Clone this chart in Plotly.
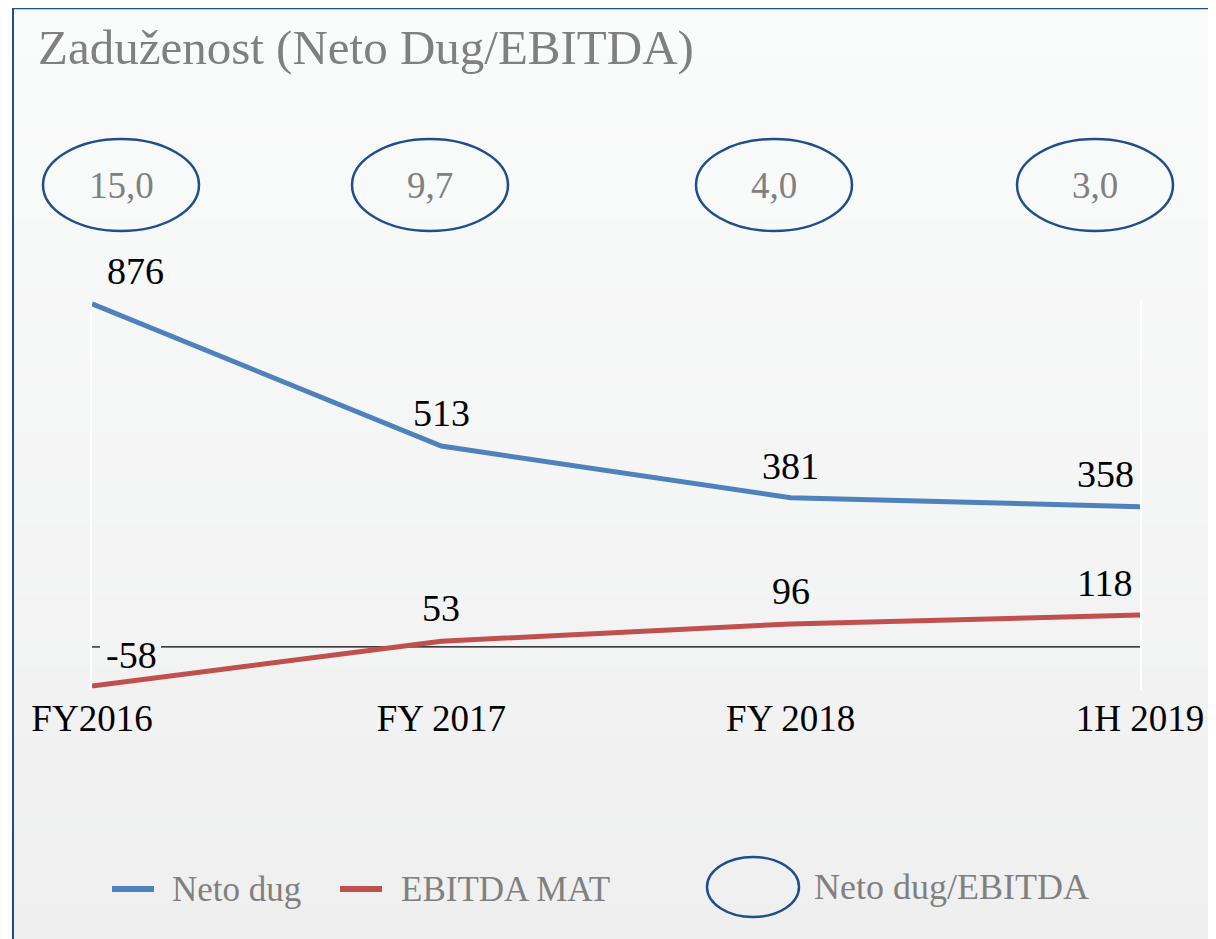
import plotly.graph_objects as go

# ---------------- data ----------------
categories = ["FY2016", "FY 2017", "FY 2018", "1H 2019"]
neto_dug = [876, 513, 381, 358]
ebitda_mat = [-58, 53, 96, 118]
ratio = [15.0, 9.7, 4.0, 3.0]
series_names = ["Neto dug", "EBITDA MAT"]
ratio_name = "Neto dug/EBITDA"

# ---------------- layout constants ----------------
W, H = 1216, 939
OFF = 8                                # page body margin
PL, PR, PT, PB = 92, 1140, 300, 690    # plot area in screen pixels
FONT = "Liberation Serif"
BLUE = "#4f81bd"
RED = "#c0504d"
NAVY = "#1f4e8c"
GRAY = "#808080"


def px(x):
    return (x - PL) / (PR - PL)


def py(y):
    return (PB - y) / (PB - PT)


fig = go.Figure()
fig.add_trace(go.Scatter(x=categories, y=neto_dug, mode="lines", name=series_names[0],
                         showlegend=False, line=dict(color=BLUE, width=5)))
fig.add_trace(go.Scatter(x=categories, y=ebitda_mat, mode="lines", name=series_names[1],
                         showlegend=False, yaxis="y2", line=dict(color=RED, width=5)))

shapes = []
# background gradient panel
top_c = (250, 251, 251)
bot_c = (239, 239, 240)
n = 40
y0, y1 = 8, H + 10
for i in range(n):
    a = y0 + (y1 - y0) * i / n
    b = y0 + (y1 - y0) * (i + 1) / n + 1
    t = i / (n - 1)
    c = tuple(round(top_c[k] + (bot_c[k] - top_c[k]) * t) for k in range(3))
    shapes.append(dict(type="rect", xref="paper", yref="paper", layer="below",
                       x0=px(13), x1=px(W + 10), y0=py(a), y1=py(b),
                       fillcolor="rgb(%d,%d,%d)" % c, line=dict(width=0)))
# border (left + top)
shapes.append(dict(type="line", xref="paper", yref="paper", layer="below",
                   x0=px(13), x1=px(13), y0=py(8), y1=py(H + 10),
                   line=dict(color=NAVY, width=2)))
shapes.append(dict(type="line", xref="paper", yref="paper", layer="below",
                   x0=px(13), x1=px(W + 10), y0=py(8), y1=py(8),
                   line=dict(color=NAVY, width=2.5)))

# zero line of the primary axis, interrupted behind the "-58" label
for a, b in [(92, 100), (161, 1140)]:
    shapes.append(dict(type="line", xref="paper", yref="y", layer="below",
                       x0=px(a), x1=px(b), y0=0, y1=0,
                       line=dict(color="black", width=1.2)))

# ratio ellipses
ell_cx = [121, 430, 774, 1095]
ell_cy, ell_rx, ell_ry = 185, 78, 46
annotations = []
for cx, v in zip(ell_cx, ratio):
    shapes.append(dict(type="circle", xref="paper", yref="paper",
                       x0=px(cx - ell_rx), x1=px(cx + ell_rx),
                       y0=py(ell_cy + ell_ry), y1=py(ell_cy - ell_ry),
                       line=dict(color=NAVY, width=2.5)))
    annotations.append(dict(xref="paper", yref="paper", x=px(cx), y=py(ell_cy + 1),
                            text=f"{v:.1f}".replace(".", ","), showarrow=False,
                            xanchor="center", yanchor="middle",
                            font=dict(family=FONT, size=37, color=GRAY)))

# data labels
blue_shift = [(43, 33), (0, 33), (0, 32), (-35, 33)]
red_shift = [(39, 31), (0, 33), (0, 33), (-35, 32)]
for i, (c, v) in enumerate(zip(categories, neto_dug)):
    annotations.append(dict(x=c, y=v, xref="x", yref="y", text=str(v), showarrow=False,
                            xshift=blue_shift[i][0], yshift=blue_shift[i][1],
                            font=dict(family=FONT, size=38, color="black")))
for i, (c, v) in enumerate(zip(categories, ebitda_mat)):
    annotations.append(dict(x=c, y=v, xref="x", yref="y2", text=str(v), showarrow=False,
                            xshift=red_shift[i][0], yshift=red_shift[i][1],
                            font=dict(family=FONT, size=38, color="black")))

# legend (drawn manually to match the sample sizes)
leg_y = 889
for (x0, x1, tx), col, name in zip([(112, 154, 170), (340, 382, 399)], [BLUE, RED], series_names):
    shapes.append(dict(type="line", xref="paper", yref="paper",
                       x0=px(x0), x1=px(x1), y0=py(leg_y), y1=py(leg_y),
                       line=dict(color=col, width=6)))
    annotations.append(dict(xref="paper", yref="paper", x=px(tx), y=py(leg_y),
                            text=name, showarrow=False, xanchor="left", yanchor="middle",
                            font=dict(family=FONT, size=35, color=GRAY)))
shapes.append(dict(type="circle", xref="paper", yref="paper",
                   x0=px(707), x1=px(799), y0=py(917), y1=py(857),
                   line=dict(color=NAVY, width=2.5)))
annotations.append(dict(xref="paper", yref="paper", x=px(812), y=py(leg_y - 2),
                        text=ratio_name, showarrow=False,
                        xanchor="left", yanchor="middle",
                        font=dict(family=FONT, size=36, color=GRAY)))

fig.update_layout(
    width=W, height=H,
    margin=dict(l=PL - OFF, r=W - (PR - OFF), t=PT - OFF, b=H - (PB - OFF), pad=0),
    paper_bgcolor="white",
    plot_bgcolor="rgba(0,0,0,0)",
    title=dict(text="Zaduženost (Neto Dug/EBITDA)", x=(38 - OFF) / W, xanchor="left",
               y=1 - (47 - OFF) / H, yanchor="middle",
               font=dict(family=FONT, size=49, color=GRAY)),
    xaxis=dict(type="category", range=[0, 3], showgrid=False, zeroline=False,
               showline=False, ticks="", ticklabelstandoff=3,
               tickfont=dict(family=FONT, size=37, color="black")),
    yaxis=dict(range=[-110, 886], showgrid=False, showticklabels=False,
               zeroline=False,
               showline=True, linecolor="white", linewidth=2),
    yaxis2=dict(range=[-68, 900], overlaying="y", side="right", showgrid=False,
                showticklabels=False, zeroline=False,
                showline=True, linecolor="white", linewidth=2),
    showlegend=False,
    shapes=shapes,
    annotations=annotations,
)

fig.write_html("out.html")
